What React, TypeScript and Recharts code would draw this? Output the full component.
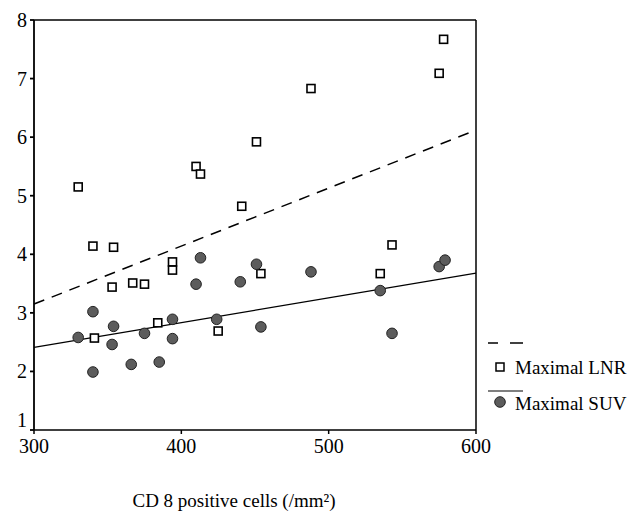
import { ReferenceLine, Scatter, ScatterChart, XAxis, YAxis } from "recharts";

const FONT = "'Liberation Serif', 'Times New Roman', serif";

// CD8 positive cells (/mm2) vs maximal LNR / maximal SUV
const lnrX = [330, 340, 354, 353, 367, 375, 394, 394, 384, 341, 410, 413, 451, 441, 454, 425, 488, 578, 575, 543, 535];
const lnrY = [5.15, 4.14, 4.12, 3.44, 3.51, 3.49, 3.87, 3.73, 2.83, 2.57, 5.5, 5.37, 5.92, 4.82, 3.67, 2.69, 6.83, 7.67, 7.09, 4.16, 3.67];

const suvX = [330, 340, 354, 353, 340, 366, 385, 375, 394, 394, 424, 413, 410, 440, 451, 454, 488, 535, 543, 575, 579];
const suvY = [2.58, 3.02, 2.77, 2.46, 1.99, 2.12, 2.16, 2.65, 2.89, 2.56, 2.89, 3.94, 3.49, 3.53, 3.83, 2.76, 3.7, 3.38, 2.65, 3.79, 3.9];

// fitted lines, end points
const lnrFit = [{ x: 300, y: 3.15 }, { x: 600, y: 6.12 }];
const suvFit = [{ x: 300, y: 2.41 }, { x: 600, y: 3.68 }];

const xTicks = [300, 400, 500, 600];
const yTicks = [1, 2, 3, 4, 5, 6, 7, 8];

const lnrData = lnrX.map((x, i) => ({ x, y: lnrY[i] }));
const suvData = suvX.map((x, i) => ({ x, y: suvY[i] }));

const Square = (p: any) => (
  <rect x={p.cx - 4} y={p.cy - 4} width={8} height={8} fill="#fff" stroke="#000" strokeWidth={1.6} />
);

const Dot = (p: any) => (
  <circle cx={p.cx} cy={p.cy} r={5.3} fill="#5c5c5c" stroke="#222" strokeWidth={1} />
);

// the lowest label sits a little above its tick, clear of "300"
const YTick = (p: any) => {
  const v = p.payload.value;
  return (
    <text
      x={p.x}
      y={p.y + (v === 1 ? -10 : 0)}
      dy="0.35em"
      textAnchor="end"
      fontFamily={FONT}
      fontSize={20}
      fill="#000"
    >
      {v}
    </text>
  );
};

function LegendBox() {
  return (
    <svg width={157} height={100} style={{ position: "absolute", left: 480, top: 330 }}>
      <line x1={8} y1={13} x2={18} y2={13} stroke="#000" strokeWidth={1.5} />
      <line x1={30} y1={13} x2={43} y2={13} stroke="#000" strokeWidth={1.5} />
      <rect x={16} y={33} width={8} height={8} fill="#fff" stroke="#000" strokeWidth={1.5} />
      <text x={35} y={44} fontFamily={FONT} fontSize={19} fill="#000">
        Maximal LNR
      </text>
      <line x1={8} y1={61} x2={43} y2={61} stroke="#000" strokeWidth={1.2} />
      <circle cx={20} cy={72} r={5.3} fill="#5c5c5c" stroke="#222" strokeWidth={1} />
      <text x={35} y={80} fontFamily={FONT} fontSize={19} fill="#000">
        Maximal SUV
      </text>
    </svg>
  );
}

export default function App() {
  return (
    <div style={{ position: "relative", width: 637, height: 515, background: "#fff" }}>
      <style>{`body{margin:0}`}</style>
      <ScatterChart width={637} height={515} margin={{ top: 20, right: 161, left: 0, bottom: 0 }}>
        <XAxis
          type="number"
          dataKey="x"
          domain={[300, 600]}
          ticks={xTicks}
          height={85}
          stroke="#000"
          strokeWidth={1.5}
          tickSize={4}
          tickMargin={5}
          tick={{ fill: "#000", fontFamily: FONT, fontSize: 20 }}
          label={{
            value: "CD 8 positive cells (/mm²)",
            position: "insideBottom",
            offset: 8,
            dx: -21,
            fill: "#000",
            fontFamily: FONT,
            fontSize: 19,
          }}
        />
        <YAxis
          type="number"
          dataKey="y"
          domain={[1, 8]}
          ticks={yTicks}
          width={34}
          stroke="#000"
          strokeWidth={1.8}
          tickSize={4}
          tickMargin={3}
          tick={YTick}
        />
        <ReferenceLine y={8} stroke="#000" strokeWidth={1.5} />
        <ReferenceLine x={600} stroke="#000" strokeWidth={1.5} />
        <ReferenceLine segment={lnrFit} stroke="#000" strokeWidth={1.5} strokeDasharray="11 8" />
        <ReferenceLine segment={suvFit} stroke="#000" strokeWidth={1.3} />
        <Scatter name="Maximal LNR" data={lnrData} shape={Square} isAnimationActive={false} />
        <Scatter name="Maximal SUV" data={suvData} shape={Dot} isAnimationActive={false} />
      </ScatterChart>
      <LegendBox />
    </div>
  );
}
